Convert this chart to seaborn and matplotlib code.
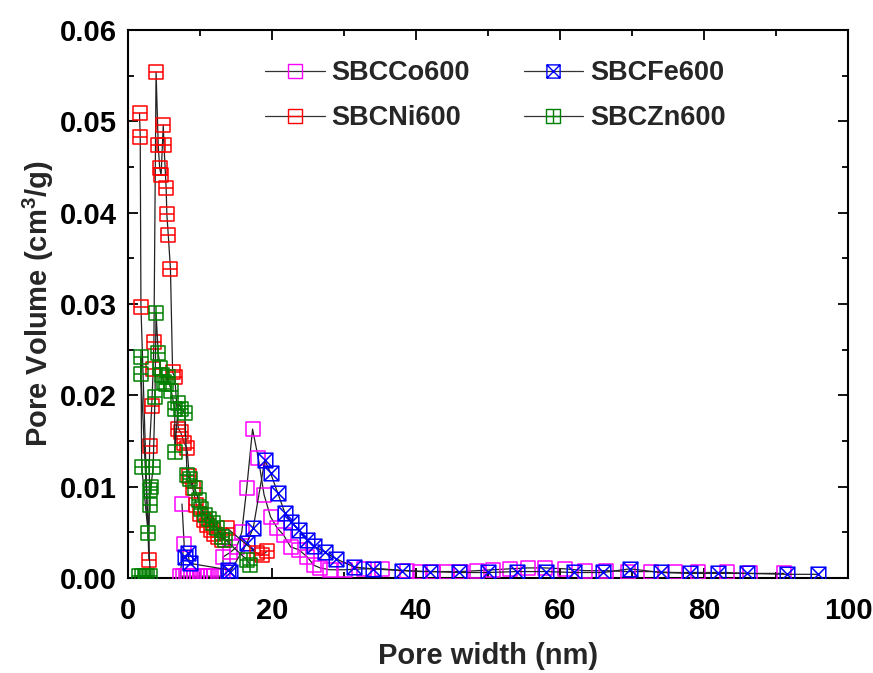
import numpy as np
import pandas as pd
import matplotlib
matplotlib.use("Agg")
import matplotlib.pyplot as plt
from matplotlib.path import Path
from matplotlib.lines import Line2D
import seaborn as sns

# ---------------- data ----------------
co_x = [7.5, 7.8, 7.2, 7.6, 8.0, 8.4, 8.8, 9.2, 9.6, 10.0, 10.5, 11.0, 11.5, 12.0, 12.6,
        13.2, 13.2, 14.2, 15.1, 15.8, 16.5, 17.3, 18.1, 18.9, 19.8, 20.7, 21.6, 22.6,
        23.7, 24.9, 25.8, 26.7, 28.0, 30.1, 32.8, 35.3, 38.7, 40.6, 42.4, 44.3, 46.3,
        48.5, 50.7, 53.0, 55.5, 57.9, 60.7, 63.5, 66.4, 69.4, 72.6, 75.9, 79.2, 83.2,
        86.4, 91.1]
co_y = [0.0081, 0.0037, 0.0002, 0.0002, 0.0002, 0.0002, 0.0002, 0.0002, 0.0002, 0.0002,
        0.0002, 0.0002, 0.0002, 0.0002, 0.0002, 0.0002, 0.0023, 0.0028, 0.0034, 0.0050,
        0.0099, 0.0163, 0.0131, 0.0091, 0.0067, 0.0055, 0.0047, 0.0034, 0.0031, 0.0023,
        0.0014, 0.0011, 0.0009, 0.0009, 0.0010, 0.0010, 0.0008, 0.0007, 0.0007, 0.0007,
        0.0007, 0.0008, 0.0009, 0.0010, 0.0011, 0.0011, 0.0010, 0.0008, 0.0008, 0.0007,
        0.0007, 0.0006, 0.0006, 0.0006, 0.0005, 0.0005]

fe_x = [7.9, 8.3, 8.6, 13.9, 14.2, 16.5, 17.4, 19.0, 19.8, 20.8, 21.8, 22.7, 23.8,
        24.8, 25.8, 27.4, 28.9, 31.4, 34.0, 38.0, 42.0, 46.0, 50.0, 54.0, 58.0,
        62.0, 66.0, 69.7, 74.0, 78.0, 82.0, 86.0, 91.5, 95.8]
fe_y = [0.0023, 0.0027, 0.0016, 0.0009, 0.0007, 0.0038, 0.0055, 0.0129, 0.0115,
        0.0093, 0.0071, 0.0061, 0.0052, 0.0042, 0.0035, 0.0028, 0.0021, 0.0012,
        0.0010, 0.0008, 0.0007, 0.0006, 0.0006, 0.0007, 0.0007, 0.0006, 0.0006,
        0.0010, 0.0006, 0.0005, 0.0005, 0.0005, 0.0004, 0.0004]

ni_x = [1.6, 1.7, 1.8, 2.9, 3.0, 3.3, 3.5, 3.6, 3.9, 4.2, 4.4, 4.6, 4.9, 5.0, 5.3,
        5.4, 5.6, 5.9, 6.2, 6.5, 7.0, 7.3, 7.8, 8.2, 8.5, 9.0, 9.5, 10.0, 10.5, 11.0,
        11.5, 12.0, 12.5, 13.0, 13.7, 17.9, 18.6, 19.3]
ni_y = [0.0509, 0.0483, 0.0297, 0.0020, 0.0145, 0.0188, 0.0229, 0.0258, 0.0554,
        0.0474, 0.0449, 0.0441, 0.0496, 0.0474, 0.0427, 0.0398, 0.0375, 0.0338,
        0.0225, 0.0220, 0.0163, 0.0160, 0.0148, 0.0142, 0.0112, 0.0098, 0.0080,
        0.0070, 0.0063, 0.0058, 0.0052, 0.0048, 0.0045, 0.0042, 0.0055, 0.0027,
        0.0025, 0.0029]

zn_x = [1.5, 1.9, 2.3, 2.7, 3.1, 1.8, 1.8, 1.9, 2.8, 3.0, 3.0, 3.2, 3.5, 3.75, 3.9,
        4.2, 4.5, 4.7, 5.0, 5.3, 5.5, 6.0, 6.5, 6.5, 7.0, 7.4, 7.9, 8.2, 8.6, 9.3,
        9.8, 10.2, 10.7, 11.2, 11.8, 12.3, 13.0, 13.5, 16.5, 17.0]
zn_y = [0.0002, 0.0002, 0.0002, 0.0002, 0.0002, 0.0223, 0.0242, 0.0122, 0.0049,
        0.0080, 0.0096, 0.0100, 0.0122, 0.0198, 0.0290, 0.0246, 0.0230, 0.0222,
        0.0215, 0.0212, 0.0220, 0.0205, 0.0185, 0.0138, 0.0192, 0.0185, 0.0181,
        0.0113, 0.0108, 0.0098, 0.0085, 0.0075, 0.0069, 0.0065, 0.0060, 0.0055,
        0.0045, 0.0042, 0.0020, 0.0014]

labels = ["SBCCo600", "SBCNi600", "SBCFe600", "SBCZn600"]
colors = {"SBCCo600": "#FF00FF", "SBCNi600": "#FF0000",
          "SBCFe600": "#0000FF", "SBCZn600": "#008000"}

# ---------------- custom Origin-like markers ----------------
sq = [(-1, -1), (1, -1), (1, 1), (-1, 1), (-1, -1)]
sq_codes = [Path.MOVETO, Path.LINETO, Path.LINETO, Path.LINETO, Path.CLOSEPOLY]
m_square = Path(sq, sq_codes)
m_hline = Path(sq + [(-1, 0), (1, 0)], sq_codes + [Path.MOVETO, Path.LINETO])
m_cross = Path(sq + [(-1, 0), (1, 0), (0, -1), (0, 1)],
               sq_codes + [Path.MOVETO, Path.LINETO, Path.MOVETO, Path.LINETO])
m_x = Path(sq + [(-1, -1), (1, 1), (-1, 1), (1, -1)],
           sq_codes + [Path.MOVETO, Path.LINETO, Path.MOVETO, Path.LINETO])
markers = {"SBCCo600": m_square, "SBCNi600": m_hline,
           "SBCFe600": m_x, "SBCZn600": m_cross}

series = {
    "SBCCo600": (co_x, co_y),
    "SBCNi600": (ni_x, ni_y),
    "SBCFe600": (fe_x, fe_y),
    "SBCZn600": (zn_x, zn_y),
}

# ---------------- plotting ----------------
sns.set_theme(style="ticks")
plt.rcParams["font.family"] = ["Liberation Sans", "DejaVu Sans"]
plt.rcParams["font.weight"] = "bold"
plt.rcParams["mathtext.fontset"] = "custom"
plt.rcParams["mathtext.bf"] = "Liberation Sans:bold"
plt.rcParams["mathtext.rm"] = "Liberation Sans:bold"
plt.rcParams["mathtext.default"] = "bf"

fig = plt.figure(figsize=(8.73, 6.73), dpi=100)
ax = fig.add_axes([0.1466, 0.1412, 0.8248, 0.8142])

draw_order = ["SBCCo600", "SBCFe600", "SBCNi600", "SBCZn600"]
for name in draw_order:
    xs, ys = series[name]
    df = pd.DataFrame({"x": xs, "y": ys})
    sns.lineplot(data=df, x="x", y="y", ax=ax, sort=False, estimator=None,
                 color="#222222", lw=0.9, marker=markers[name], markersize=10.5,
                 markerfacecolor="none", markeredgecolor=colors[name],
                 markeredgewidth=1.1, legend=False, zorder=3)

ax.set_xlim(0, 100)
ax.set_ylim(0, 0.06)
ax.set_xticks([0, 20, 40, 60, 80, 100])
ax.set_yticks([0.00, 0.01, 0.02, 0.03, 0.04, 0.05, 0.06])
ax.set_yticklabels(["0.00", "0.01", "0.02", "0.03", "0.04", "0.05", "0.06"])
ax.set_xticks(np.arange(10, 100, 20), minor=True)
ax.set_yticks(np.arange(0.005, 0.06, 0.01), minor=True)
ax.tick_params(which="both", direction="in", top=True, right=True,
               labelsize=21, width=1.3, colors="black")
ax.tick_params(which="major", length=7)
ax.tick_params(which="minor", length=4)
ax.tick_params(axis="x", which="major", pad=14)
ax.tick_params(axis="y", which="major", pad=8)
for lab in ax.get_xticklabels() + ax.get_yticklabels():
    lab.set_fontweight("bold")
for sp in ax.spines.values():
    sp.set_linewidth(1.5)
    sp.set_color("black")

ax.set_xlabel("Pore width (nm)", fontsize=21, fontweight="bold", labelpad=12)
ax.set_ylabel(r"Pore Volume (cm$^{3}$/g)", fontsize=21, fontweight="bold", labelpad=3)

handles = [Line2D([0], [0], color="#333333", lw=0.9, marker=markers[n], markersize=9.5,
                  markerfacecolor="none", markeredgecolor=colors[n],
                  markeredgewidth=1.0, label=n) for n in labels]
leg = ax.legend(handles=handles, ncol=2, loc="upper left",
                bbox_to_anchor=(0.172, 0.97), frameon=False, borderpad=0,
                prop={"weight": "bold", "size": 19.5}, handlelength=2.2,
                handletextpad=0.25, columnspacing=1.97, labelspacing=0.72)

fig.savefig("out.png", dpi=100)
